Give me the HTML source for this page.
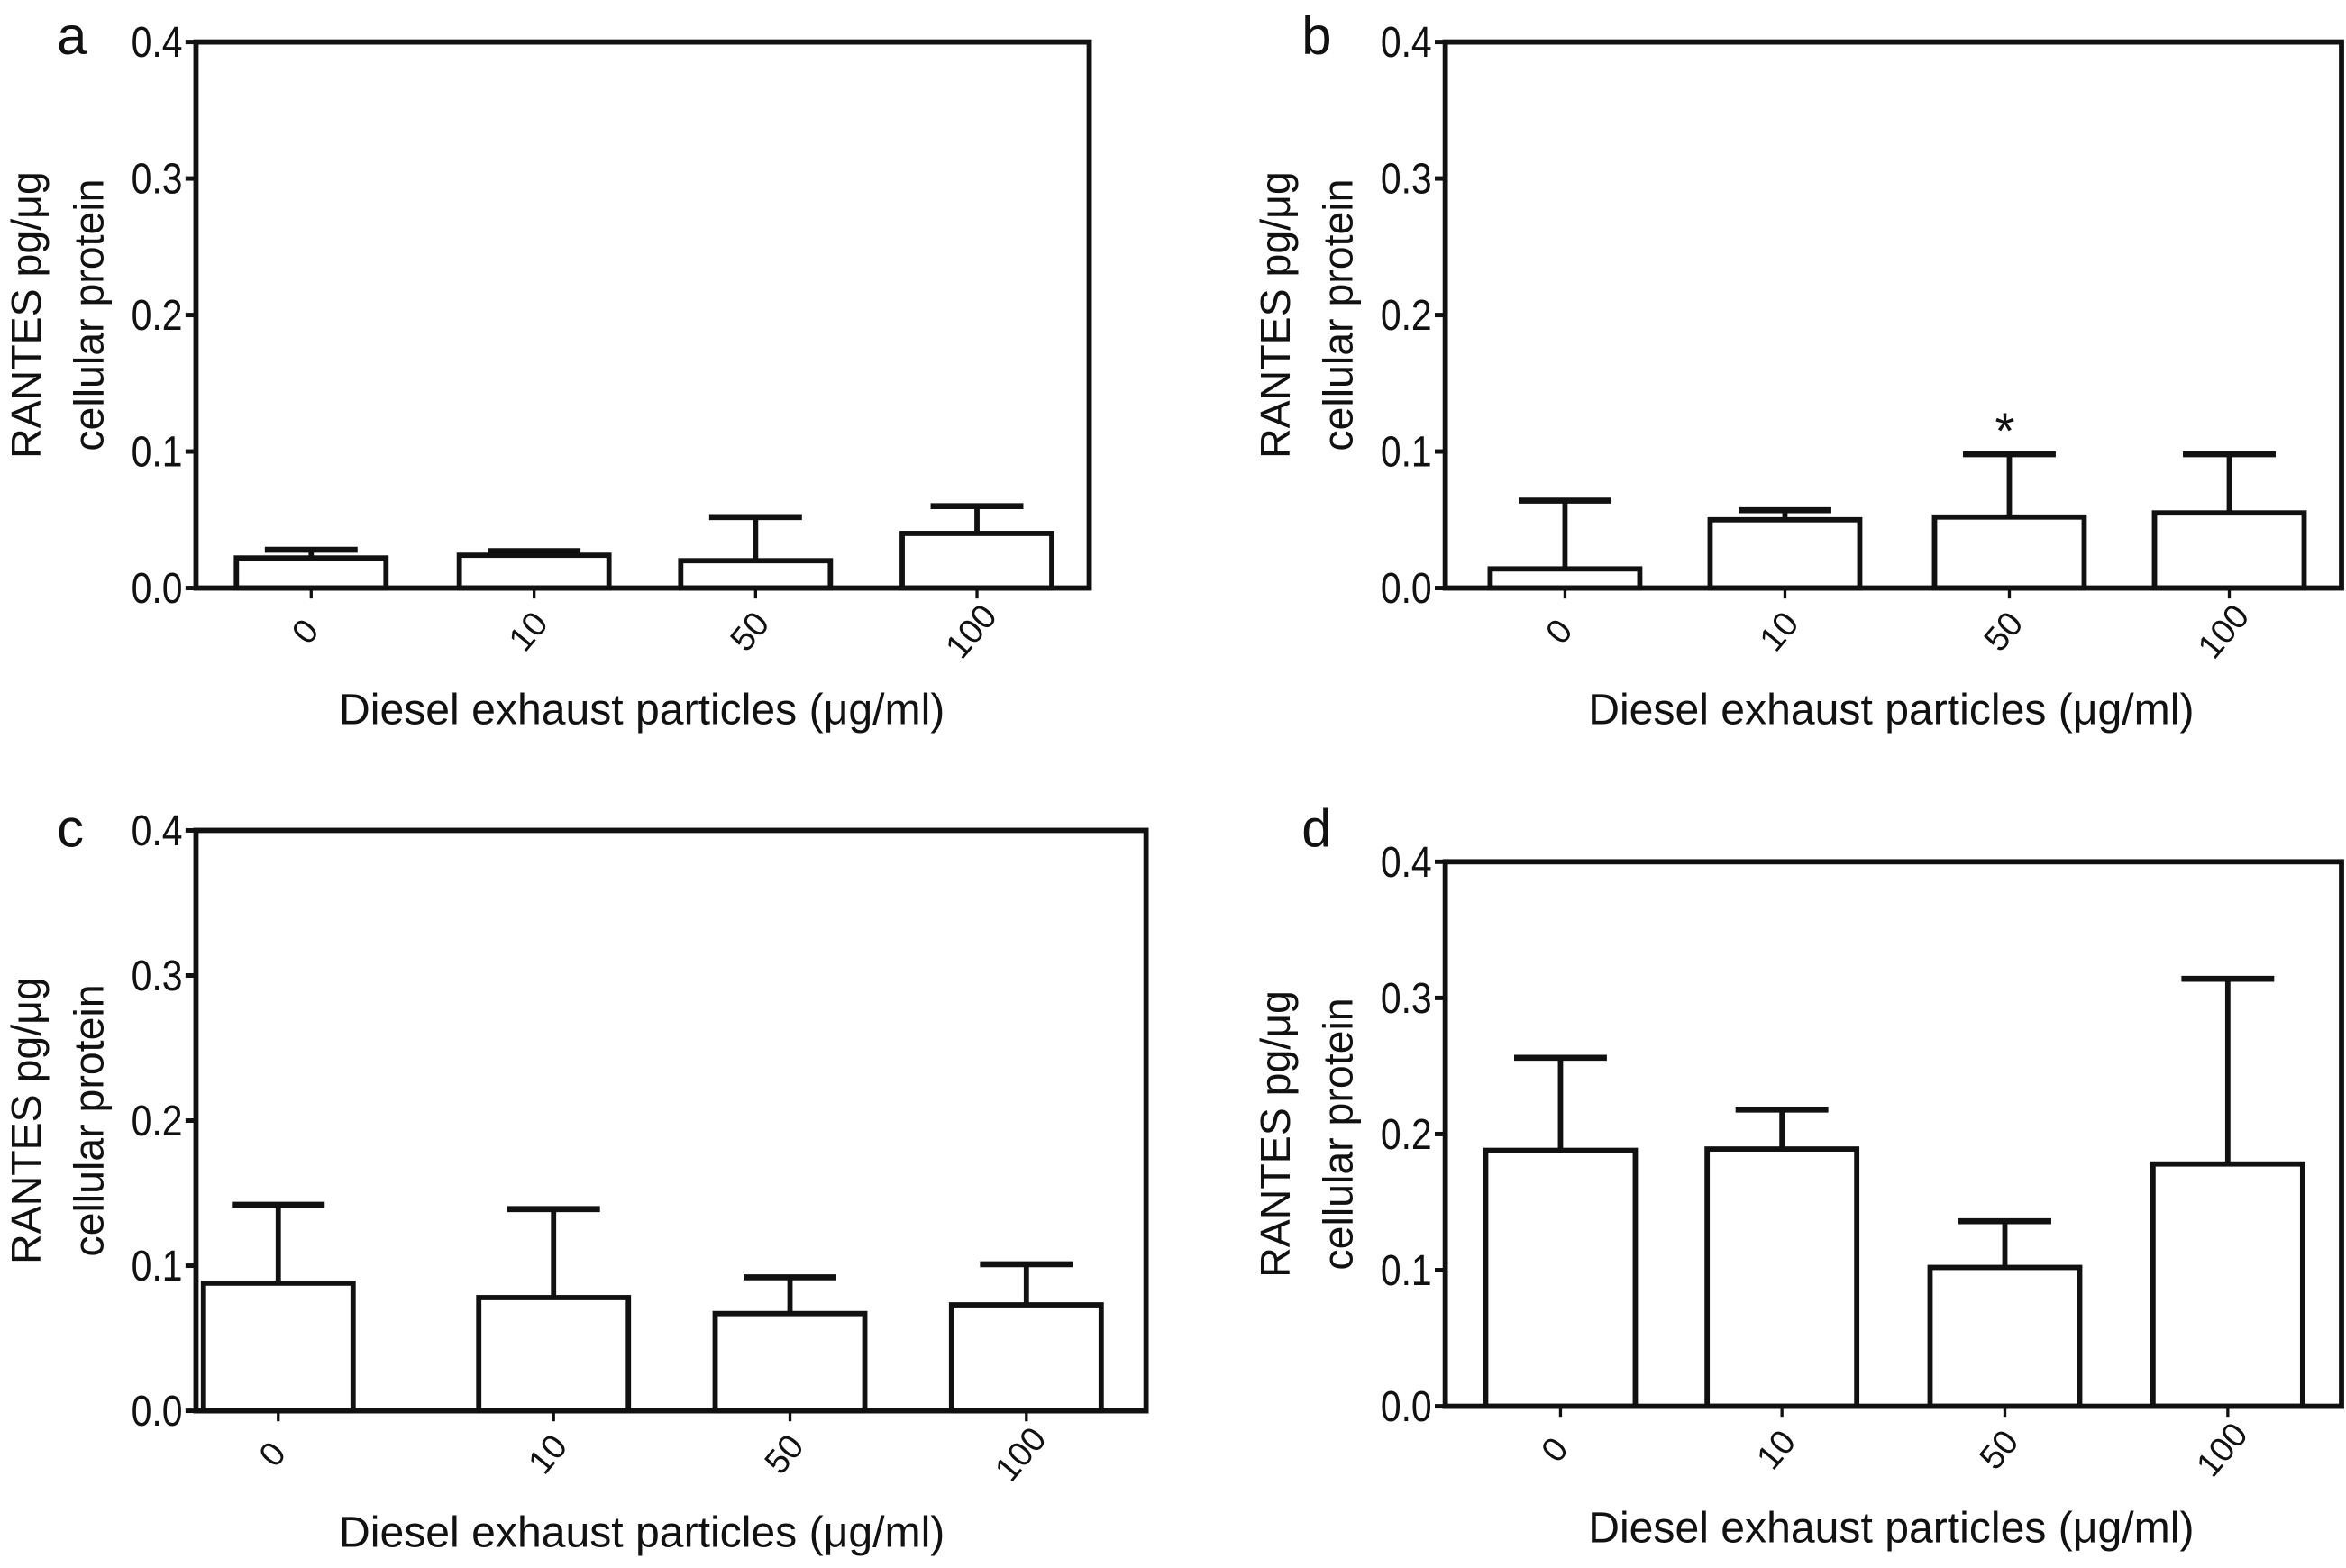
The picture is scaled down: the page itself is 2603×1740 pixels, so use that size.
<!DOCTYPE html>
<html><head><meta charset="utf-8"><style>
html,body{margin:0;padding:0;background:#fff;}
svg{display:block;}
text{font-family:"Liberation Sans",sans-serif;fill:#111;}
</style></head>
<body>
<svg id="fig" width="2603" height="1740" viewBox="0 0 1568 1048" xmlns="http://www.w3.org/2000/svg"></svg>
<script>
const categories = ["0","10","50","100"];
const yTicks = [0.0,0.1,0.2,0.3,0.4];
const yTickLabels = ["0.0","0.1","0.2","0.3","0.4"];
const meansA = [0.022,0.024,0.020,0.040];
const errA   = [0.028,0.027,0.052,0.060];
const meansB = [0.014,0.050,0.052,0.055];
const errB   = [0.064,0.057,0.098,0.098];
const meansC = [0.088,0.078,0.067,0.073];
const errC   = [0.142,0.139,0.092,0.101];
const meansD = [0.188,0.189,0.102,0.178];
const errD   = [0.256,0.218,0.136,0.314];
const starsB = [false,false,true,false];

const NS="http://www.w3.org/2000/svg";
const svg=document.getElementById('fig');
function mk(tag,attrs,parent){const e=document.createElementNS(NS,tag);for(const k in attrs)e.setAttribute(k,attrs[k]);(parent||svg).appendChild(e);return e;}

const panels=[
 {id:'a',L:131,R:728,T:28,B:393,cx:[208,357,505,653],means:meansA,errs:errA,letterX:38,letterY:36},
 {id:'b',L:966,R:1565,T:28,B:393,cx:[1046,1193,1343,1490],means:meansB,errs:errB,letterX:870,letterY:36,stars:starsB},
 {id:'c',L:131,R:766,T:555,B:943,cx:[186,370,528,686],means:meansC,errs:errC,letterX:38,letterY:566},
 {id:'d',L:966,R:1565,T:576,B:940,cx:[1043,1191,1340,1489],means:meansD,errs:errD,letterX:870,letterY:566}
];
panels.forEach(p=>{
  const g=mk('g',{});
  
  
  const y=v=>p.B-(v/0.4)*(p.B-p.T);
  const bw=100;
  p.means.forEach((m,i)=>{
    const x=p.cx[i];
    const eb=mk('line',{x1:x,x2:x,y1:y(m),y2:y(p.errs[i]),stroke:'#111','stroke-width':3.5},g);
    
    
    const cap=mk('line',{x1:x-31,x2:x+31,y1:y(p.errs[i]),y2:y(p.errs[i]),stroke:'#111','stroke-width':4},g);
    
    
    const r=mk('rect',{x:x-bw/2,y:y(m),width:bw,height:p.B-y(m),fill:'#fff',stroke:'#111','stroke-width':3.5},g);
    
    
    if(p.stars&&p.stars[i]){
      const s=mk('text',{x:x-3,y:y(p.errs[i])-4,'font-size':34,'text-anchor':'middle'},g);
      s.textContent='*';
      
      
    }
    const tk=mk('line',{x1:x,x2:x,y1:p.B,y2:p.B+7,stroke:'#111','stroke-width':2},g);
    
    
    const lx=x+2,ly=p.B+34;
    const lab=mk('text',{x:lx,y:ly,'font-size':23,'text-anchor':'middle',transform:`rotate(-50 ${lx} ${ly})`},g);
    lab.textContent=categories[i];
    
    
  });
  const fr=mk('rect',{x:p.L,y:p.T,width:p.R-p.L,height:p.B-p.T,fill:'none',stroke:'#111','stroke-width':3.5},g);
  
  
  yTicks.forEach((v,i)=>{
    const t=mk('line',{x1:p.L-7,x2:p.L,y1:y(v),y2:y(v),stroke:'#111','stroke-width':3},g);
    
    
    const l=mk('text',{x:0,y:0,'font-size':29,'text-anchor':'end',transform:`translate(${p.L-9},${y(v)+10}) scale(0.85,1)`},g);
    l.textContent=yTickLabels[i];
    
    
  });
  const mid=(p.T+p.B)/2;
  const yt=mk('text',{x:0,y:0,'font-size':28,'text-anchor':'middle',transform:`translate(${p.L-104},${mid}) rotate(-90)`},g);
  yt.textContent='RANTES pg/\u03bcg';
  
  
  const yt2=mk('text',{x:0,y:0,'font-size':28,'text-anchor':'middle',transform:`translate(${p.L-62},${mid}) rotate(-90)`},g);
  yt2.textContent='cellular protein';
  
  
  const xt=mk('text',{x:p.L+298,y:p.B+91,'font-size':29,'text-anchor':'middle'},g);
  xt.textContent='Diesel exhaust particles (\u03bcg/ml)';
  
  
  const lt=mk('text',{x:p.letterX,y:p.letterY,'font-size':36},g);
  lt.textContent=p.id;
  
  
});
</script>
</body></html>
